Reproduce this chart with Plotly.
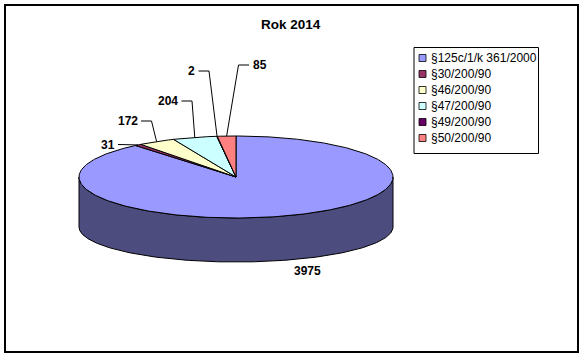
import numpy as np
import plotly.graph_objects as go

# ---- data ----
categories = ["§125c/1/k 361/2000", "§30/200/90", "§46/200/90",
              "§47/200/90", "§49/200/90", "§50/200/90"]
values = [3975, 31, 172, 204, 2, 85]
colors = ["#9999FF", "#993366", "#FFFFCC", "#CCFFFF", "#660066", "#FF8080"]
title_text = "Rok 2014"

# ---- layout parameters (pixels) ----
W, H = 583, 357
CX, CY, RX, RY = 236, 177, 157, 41        # top ellipse
CYB, RYB = 227, 35                         # bottom ellipse (perspective)
FONT = "Liberation Sans, Arial, sans-serif"
# label positions: (x, y, anchor, leader)
label_pos = [(307.5, 271, "center", False),
             (116.5, 144.5, "right", True),
             (139.5, 121, "right", True),
             (180, 101, "right", True),
             (197, 71, "right", True),
             (250.5, 65, "left", True)]
LEG_X0, LEG_Y0, LEG_X1, LEG_Y1 = 414, 47.5, 538.5, 153.5
LEG_ROW0, LEG_STEP = 58, 16


def top_pt(t):
    return CX + RX * np.sin(t), CY - RY * np.cos(t)


def bot_pt(t):
    return CX + RX * np.sin(t), CYB - RYB * np.cos(t)


def darker(hexc, f=0.5):
    h = hexc.lstrip("#")
    r, g, b = (int(h[i:i + 2], 16) for i in (0, 2, 4))
    return "rgb(%d,%d,%d)" % (r * f, g * f, b * f)


total = float(sum(values))
cum = np.concatenate([[0], np.cumsum(values)]) / total * 2 * np.pi
starts, ends = cum[:-1], cum[1:]

fig = go.Figure()

# side walls (front half only)
for i in range(len(values)):
    lo, hi = max(starts[i], np.pi / 2), min(ends[i], 3 * np.pi / 2)
    if hi <= lo:
        continue
    ts = np.linspace(lo, hi, 200)
    xt, yt = top_pt(ts)
    xb, yb = bot_pt(ts[::-1])
    xs = np.concatenate([xt, xb, xt[:1]])
    ys = np.concatenate([yt, yb, yt[:1]])
    fig.add_trace(go.Scatter(x=xs, y=ys, mode="lines", fill="toself",
                             fillcolor=darker(colors[i]),
                             line=dict(color="black", width=1),
                             hoverinfo="skip", showlegend=False))

# top faces
for i in range(len(values)):
    n = max(3, int((ends[i] - starts[i]) / (2 * np.pi) * 400))
    ts = np.linspace(starts[i], ends[i], n)
    xa, ya = top_pt(ts)
    xs = np.concatenate([[CX], xa, [CX]])
    ys = np.concatenate([[CY], ya, [CY]])
    fig.add_trace(go.Scatter(x=xs, y=ys, mode="lines", fill="toself",
                             fillcolor=colors[i],
                             line=dict(color="black", width=1),
                             name=categories[i], text=str(values[i]),
                             hoverinfo="name+text", showlegend=False))

# data labels + leader lines
for i, (lx, ly, anc, leader) in enumerate(label_pos):
    fig.add_annotation(x=lx, y=ly, text="<b>%d</b>" % values[i], showarrow=False,
                       xanchor=anc, yanchor="middle",
                       font=dict(family=FONT, size=12, color="black"))
    if leader:
        mid = (starts[i] + ends[i]) / 2
        sx, sy = top_pt(mid)
        if anc == "right":
            end_x = lx + 1.5
            elb_x = end_x + 10.5
        else:
            end_x = lx - 1.5
            elb_x = end_x - 10.5
        fig.add_trace(go.Scatter(x=[sx, elb_x, end_x], y=[sy, ly, ly], mode="lines",
                                 line=dict(color="black", width=1),
                                 hoverinfo="skip", showlegend=False))

# title
fig.add_annotation(x=291, y=24, text="<b>%s</b>" % title_text, showarrow=False,
                   xanchor="center", yanchor="middle",
                   font=dict(family=FONT, size=13.5, color="black"))

shapes = []
# outer frame
shapes.append(dict(type="rect", xref="x", yref="y", x0=5, y0=5, x1=578, y1=352,
                   line=dict(color="black", width=2), fillcolor="rgba(0,0,0,0)",
                   layer="above"))
# legend box
shapes.append(dict(type="rect", xref="x", yref="y", x0=LEG_X0, y0=LEG_Y0,
                   x1=LEG_X1, y1=LEG_Y1, line=dict(color="black", width=1),
                   fillcolor="white", layer="below"))
for i, cat in enumerate(categories):
    yc = LEG_ROW0 + i * LEG_STEP
    shapes.append(dict(type="rect", xref="x", yref="y", x0=419, y0=yc - 3.5,
                       x1=426, y1=yc + 3.5, line=dict(color="black", width=0.8),
                       fillcolor=colors[i], layer="above"))
    fig.add_annotation(x=428.5, y=yc, text=cat, showarrow=False,
                       xanchor="left", yanchor="middle",
                       font=dict(family=FONT, size=12, color="black"))

fig.update_layout(
    width=W, height=H, margin=dict(l=0, r=0, t=0, b=0),
    paper_bgcolor="white", plot_bgcolor="white",
    shapes=shapes, showlegend=False,
    xaxis=dict(range=[0, W], visible=False, fixedrange=True),
    yaxis=dict(range=[H, 0], visible=False, fixedrange=True),
)

fig.write_html("out.html", config={"displayModeBar": False},
               post_script="document.body.style.margin='0';"
                           "document.body.style.overflow='hidden';")
